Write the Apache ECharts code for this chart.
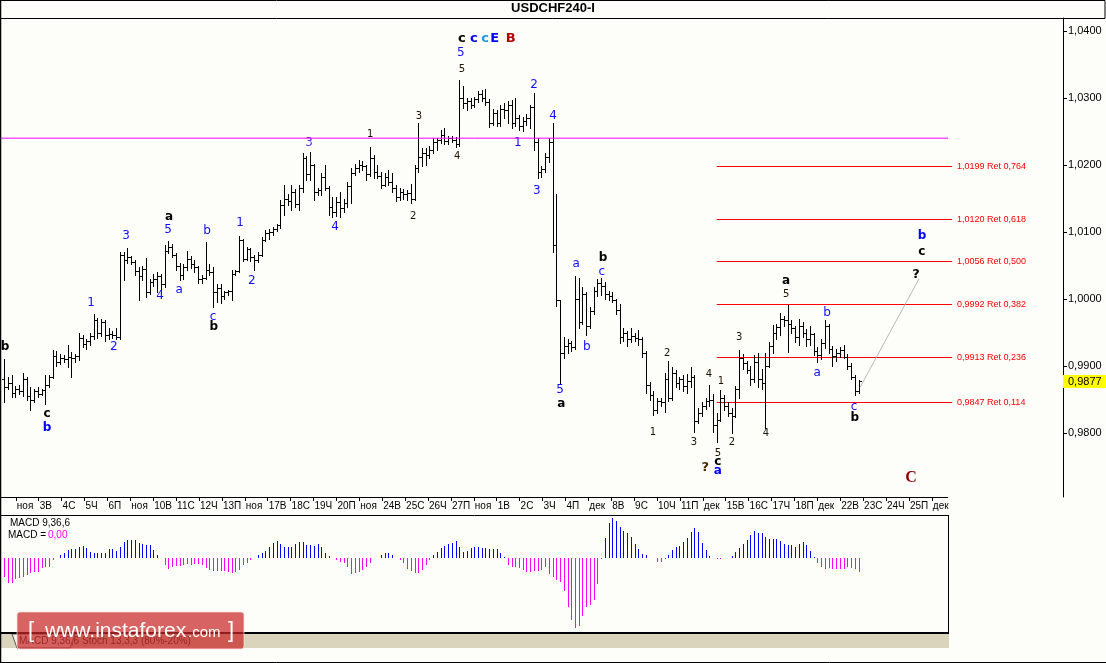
<!DOCTYPE html>
<html><head><meta charset="utf-8">
<script src="https://cdn.jsdelivr.net/npm/echarts@6/dist/echarts.min.js"></script>
<style>html,body{margin:0;padding:0;background:#fdfdf9}#c{width:1106px;height:663px}</style>
</head><body><div id="c"></div>
<script>
// ---------- DATA ----------
const dateLabels = ['ноя','3В','4С','5Ч','6П','ноя','10В','11С','12Ч','13П','ноя','17В','18С','19Ч','20П','ноя','24В','25С','26Ч','27П','ноя','1В','2С','3Ч','4П','дек','8В','9С','10Ч','11П','дек','15В','16С','17Ч','18П','дек','22В','23С','24Ч','25П','дек'];
const priceTicks = [0.98, 0.99, 1.00, 1.01, 1.02, 1.03, 1.04];
// OHLC in pips (price * 10000)
const opens = [
9880,9868,9874,9860,9866,9862,9880,9855,9850,9862,9858,9864,9872,9884,9915,9906,9912,9910,9914,9912,
9915,9942,9933,9937,9945,9968,9950,9966,9946,9948,9946,9944,10066,10058,10062,10055,10042,10034,10045,10010,
10026,10030,10035,10022,10072,10078,10066,10050,10036,10048,10060,10052,10048,10030,10032,10044,10040,10010,10016,10004,
10010,10012,10038,10042,10088,10060,10074,10062,10058,10066,10088,10098,10100,10104,10110,10140,10150,10146,10160,10142,
10165,10210,10186,10200,10160,10162,10182,10166,10138,10130,10145,10136,10144,10168,10188,10196,10200,10198,10186,10210,
10190,10184,10170,10182,10175,10165,10152,10160,10156,10158,10150,10195,10212,10218,10215,10222,10235,10238,10245,10236,
10240,10238,10232,10300,10292,10296,10290,10298,10306,10300,10294,10262,10278,10262,10284,10282,10290,10262,10270,10258,
10265,10270,10286,10235,10190,10194,10212,10235,10080,9998,9920,9930,9934,9928,10000,9966,10008,9960,9982,10012,
10024,10020,10008,10004,9998,9984,9944,9950,9940,9945,9942,9940,9920,9872,9856,9834,9848,9846,9880,9852,
9890,9874,9880,9870,9878,9884,9818,9830,9840,9848,9850,9812,9820,9852,9840,9830,9826,9866,9912,9904,
9894,9880,9906,9880,9874,9900,9930,9950,9958,9970,9968,9962,9956,9944,9960,9950,9940,9948,9922,9916,
9935,9960,9926,9915,9920,9924,9914,9900,9884,9862];
const highs = [
9910,9883,9886,9870,9871,9889,9884,9868,9866,9868,9866,9886,9886,9924,9922,9918,9916,9931,9921,9918,
9949,9946,9940,9950,9977,9972,9970,9969,9956,9952,9956,10070,10070,10076,10064,10058,10048,10050,10061,10030,
10037,10040,10038,10080,10086,10082,10068,10054,10052,10072,10064,10058,10050,10036,10085,10052,10048,10022,10022,10012,
10014,10043,10044,10094,10090,10078,10076,10066,10070,10092,10103,10104,10108,10112,10148,10170,10156,10170,10164,10170,
10218,10214,10220,10202,10166,10188,10200,10168,10152,10152,10160,10150,10175,10196,10202,10207,10206,10200,10227,10215,
10200,10190,10188,10192,10188,10170,10165,10164,10162,10172,10200,10263,10225,10225,10228,10240,10240,10252,10255,10244,
10244,10242,10327,10318,10300,10300,10302,10310,10312,10313,10298,10284,10282,10290,10292,10296,10297,10300,10275,10272,
10276,10290,10307,10240,10198,10218,10240,10262,10156,9999,9943,9940,9938,10034,10031,10018,10010,9988,10018,10030,
10031,10025,10012,10010,10000,9992,9956,9952,9956,9950,9954,9944,9922,9876,9862,9852,9852,9889,9907,9898,
9894,9884,9886,9888,9898,9886,9838,9846,9852,9871,9858,9830,9864,9856,9846,9838,9870,9924,9918,9908,
9900,9916,9919,9896,9919,9936,9961,9962,9979,9975,9991,9968,9960,9970,9966,9955,9960,9950,9928,9940,
9968,9962,9930,9926,9928,9932,9918,9904,9886,9879];
const lows = [
9846,9866,9853,9853,9858,9855,9849,9834,9846,9853,9856,9843,9868,9882,9900,9903,9906,9898,9883,9906,
9909,9928,9926,9931,9940,9942,9945,9938,9941,9942,9940,9940,10028,10054,10052,10036,9998,10028,10003,10008,
10020,10010,10014,10018,10068,10062,10044,10028,10030,10044,10046,10040,10024,10024,10030,10036,9988,9996,9994,10000,
10006,9998,10036,10040,10056,10058,10057,10043,10055,10064,10086,10090,10096,10102,10106,10125,10140,10133,10138,10133,
10160,10178,10178,10148,10155,10155,10162,10125,10122,10124,10122,10130,10137,10143,10185,10190,10192,10178,10184,10180,
10180,10165,10168,10170,10160,10146,10148,10150,10148,10143,10148,10190,10198,10200,10210,10218,10222,10233,10232,10232,
10234,10227,10228,10285,10282,10285,10286,10294,10296,10290,10256,10260,10258,10258,10270,10262,10255,10258,10252,10251,
10260,10255,10222,10181,10182,10190,10205,10070,9990,9874,9912,9920,9922,9926,9956,9962,9947,9956,9978,10004,
10006,10000,9998,9995,9978,9934,9938,9930,9936,9938,9932,9914,9860,9850,9827,9830,9840,9831,9848,9850,
9868,9866,9862,9860,9868,9801,9815,9826,9836,9840,9801,9786,9818,9834,9826,9800,9824,9852,9896,9890,
9872,9876,9868,9866,9808,9898,9920,9940,9946,9960,9921,9950,9936,9932,9944,9930,9932,9916,9906,9910,
9927,9920,9900,9908,9914,9912,9896,9880,9857,9860];
const closes = [
9868,9874,9860,9866,9862,9880,9855,9850,9862,9858,9864,9872,9884,9915,9906,9912,9910,9914,9912,9915,
9942,9933,9937,9945,9968,9950,9966,9946,9948,9946,9944,10066,10058,10062,10055,10042,10034,10045,10010,10026,
10030,10035,10022,10072,10078,10066,10050,10036,10048,10060,10052,10048,10030,10032,10044,10040,10010,10016,10004,10010,
10012,10038,10042,10088,10060,10074,10062,10058,10066,10088,10098,10100,10104,10110,10140,10150,10146,10160,10142,10165,
10210,10186,10200,10160,10162,10182,10166,10138,10130,10145,10136,10144,10168,10188,10196,10200,10198,10186,10210,10190,
10184,10170,10182,10175,10165,10152,10160,10156,10158,10150,10195,10212,10218,10215,10222,10235,10238,10245,10236,10240,
10238,10232,10300,10292,10296,10290,10298,10306,10300,10294,10262,10278,10262,10284,10282,10290,10262,10270,10258,10265,
10270,10286,10235,10190,10194,10212,10235,10080,9998,9920,9930,9934,9928,10000,9966,10008,9960,9982,10012,10024,
10020,10008,10004,9998,9984,9944,9950,9940,9945,9942,9940,9920,9872,9856,9834,9848,9846,9880,9852,9890,
9874,9880,9870,9878,9884,9818,9830,9840,9848,9850,9812,9820,9852,9840,9830,9826,9866,9912,9904,9894,
9880,9906,9880,9874,9900,9930,9950,9958,9970,9968,9962,9956,9944,9960,9950,9940,9948,9922,9916,9935,
9960,9926,9915,9920,9924,9914,9900,9884,9862,9877];
// MACD histogram (one value per bar)
const macdHist = [
-19,-25.7,-25.7,-21.7,-20.7,-19,-17.3,-15.7,-14,-14,-10.7,-9.7,-9,-2.3,0,
2.7,5,7.7,8.3,8.3,10.3,11.7,9.3,6,5,5,5,5,8.3,8.3,6.7,10.3,16,17.7,17.7,17.7,14.3,13.7,12.7,12.7,7.7,2.7,0,
-7.3,-11.3,-9.7,-8.3,-8.3,-7.3,-6.7,-7.3,-6.3,-6.3,-7.3,-10.7,-12.3,-13,-13,-13.3,-13.3,-14,-15,-14.7,-12.3,-7.3,-5,-2.3,-0.7,
2.7,4.3,6.7,11,14.3,17,13.7,11,11,11,13.7,15.3,15.3,12.7,12.7,11.7,13.3,10.3,5,1.7,0,
-2.3,-4,-5.7,-9.7,-16.3,-15.7,-14,-12.3,-9,-5,0,0,
2.7,5,5,2.7,
-0.7,-2.3,-5.7,-11.7,-13.3,-15,-15,-12.3,-7.3,-2.3,
2.7,6,9.3,11.7,13.7,15,17,10.3,6,7,9.3,10.3,10.3,9.3,9.3,8.3,8.3,8.3,5,1,
-7.3,-9,-9.7,-10.7,-12.3,-14,-14,-13,-13,-12.3,-9.7,-16.3,-19.7,-22.3,
-24,-33,-49,-62.3,-70.7,-68.3,-58.3,-49.7,-47.3,-42.3,-26.3,-1.7,
19.3,35,39.3,37,30.3,26.7,25,21,13.7,8.3,3.7,2.3,0,
-0.7,-4,-4,-1.7,
2.7,7.7,11,11.7,16,19.3,25.3,29.3,25.3,15,7.7,1.7,0,
-1,-1.7,0,0,
1.7,5.3,9.3,13.7,17.7,22.7,26.7,25,24.3,21,18.3,18.3,18.3,17,13.7,12.7,12.7,11,13.3,15.3,12.7,7,1,
-5,-9.7,-11.7,-10.7,-11,-11.7,-11.7,-11.7,-9.7,-10.7,-11.7,-14];
const fibLevels = [1.0199, 1.0120, 1.0056, 0.9992, 0.9913, 0.9847];
const fibRatios = ['0,764', '0,618', '0,500', '0,382', '0,236', '0,114'];
const magentaLevel = 1.0240;
const projection = [[229.4, 0.9868], [245.2, 1.0030]];
// wave labels: text, bar position, price (pips), kind
const waveText  = ['b','c','b','1','2','3','4','5','a','a','b','c','b','1','2','3','4','1','2','3','4','5','5','c','c','c','E','B','1','2','3','4','5','a','a','b','c','b','1','2','3','4','1','5','c','a','?','2','3','4','5','a','b','a','c','b','?','c','b','C'];
const waveIdx   = [0.2,11.5,11.5,23.3,29.4,32.7,41.8,43.9,44.2,46.9,54.4,56.0,56.2,63.2,66.4,81.7,88.7,98.1,109.6,111.2,121.4,122.7,122.4,122.7,125.9,128.9,131.5,135.8,137.7,142.0,142.8,147.1,149.0,149.3,153.3,156.2,160.2,160.5,173.9,177.7,184.9,188.9,192.1,191.3,191.3,191.3,187.9,195.1,197.0,204.2,209.6,209.6,220.6,217.9,227.8,228.0,244.4,246.0,246.0,243.1];
const wavePrice = [9928,9828,9807,9994,9928,10094,10004,10103,10122,10013,10101,9974,9958,10113,10027,10233,10107,10245,10124,10273,10213,10342,10367,10388,10388,10389,10388,10388,10233,10319,10162,10274,9865,9844,10052,9928,10040,10062,9801,9919,9786,9888,9877,9770,9757,9743,9748,9786,9942,9800,10007,10027,9980,9889,9839,9822,10037,10071,10094,9733];
const waveKind  = ['blk','blk','bluB','blu','blu','blu','blu','blu','blk','blu','blu','blu','blk','blu','blu','vio','blu','num','num','num','num','num','blu','blkL','bluL','lbl','bluL','red','blu','blu','blu','blu','blu','blk','blu','blu','blu','blk','num','num','num','num','num','num','blk','bluB','qbr','num','num','num','num','blk','blu','blu','blu','blk','q','blk','bluB','bigC'];

// ---------- STYLE / LAYOUT ----------
const FONT = '"Liberation Sans", Arial, sans-serif';
const kinds = {
  blk:  ['bold 12px "DejaVu Sans"', '#000000'],
  blkL: ['bold 13px "DejaVu Sans"', '#000000'],
  bluB: ['bold 12px "DejaVu Sans"', '#0000ff'],
  bluL: ['bold 13px "DejaVu Sans"', '#0000ff'],
  blu:  ['12px "DejaVu Sans"', '#1010ff'],
  vio:  ['12px "DejaVu Sans"', '#4b33ff'],
  num:  ['10px "DejaVu Sans"', '#1e1200'],
  lbl:  ['bold 13px "DejaVu Sans"', '#1c9be0'],
  red:  ['bold 13px "DejaVu Sans"', '#b00000'],
  qbr:  ['bold 13px "DejaVu Sans"', '#4a2800'],
  q:    ['bold 13px "DejaVu Sans"', '#000000'],
  bigC: ['bold 16px "Liberation Serif"', '#8b0000']
};
const PX = 3.7306, X0 = -0.858;     // pixels per bar, first index at left edge
const fibStart = 191, fibEnd = 254.1, fibTextAt = 255.4;
const lineLeft = X0, lineRight = 253.0;
const fmt = v => v.toFixed(4).replace('.', ',');

const ohlc = closes.map((c, i) => [i, opens[i] / 1e4, highs[i] / 1e4, lows[i] / 1e4, c / 1e4]);
const macdData = macdHist.map((v, i) => [i, v]);
const waveData = waveText.map((t, i) => [waveIdx[i], wavePrice[i] / 1e4]);
const fibData = fibLevels.map((v, i) => [fibStart, v]);

const chart = echarts.init(document.getElementById('c'), null, {renderer: 'canvas', width: 1106, height: 663});

const option = {
  backgroundColor: '#fdfdf9',
  animation: false,
  title: {
    text: 'USDCHF240-I', left: 'center', top: 2, padding: 0,
    textStyle: {fontFamily: FONT, fontWeight: 'bold', fontSize: 13, color: '#000'}
  },
  grid: [
    {left: 1, top: 18, width: 1062, height: 479},
    {left: 15.8, top: 496, width: 40.5 * 22.9, height: 1},
    {left: 1, top: 515, width: 947, height: 117}
  ],
  xAxis: [
    {type: 'value', gridIndex: 0, min: X0, max: X0 + 1062 / PX, show: false},
    {type: 'value', gridIndex: 1, min: 0, max: 40.5, interval: 1, position: 'bottom',
      axisLine: {show: false, onZero: false}, splitLine: {show: false},
      axisTick: {show: true, length: 4, lineStyle: {color: '#000'}},
      axisLabel: {formatter: v => dateLabels[v] || '', align: 'left', margin: 4, padding: [0, 0, 0, 1],
        fontFamily: FONT, fontSize: 10, color: '#000', showMaxLabel: false}},
    {type: 'value', gridIndex: 2, min: X0, max: X0 + 947 / PX, show: false}
  ],
  yAxis: [
    {type: 'value', gridIndex: 0, position: 'right', min: 1.04 - 466 / 6700, max: 1.04 + 13 / 6700,
      axisLine: {show: true, onZero: false, lineStyle: {color: '#000', width: 1}},
      axisTick: {show: true, length: 4, lineStyle: {color: '#000'}, customValues: priceTicks},
      axisLabel: {customValues: priceTicks, formatter: fmt, color: '#000', fontFamily: FONT, fontSize: 11, margin: 5},
      splitLine: {show: false}},
    {type: 'value', gridIndex: 1, show: false},
    {type: 'value', gridIndex: 2, min: -74.3, max: 42.7, show: false}
  ],
  series: [
    { // magenta level
      type: 'line', xAxisIndex: 0, yAxisIndex: 0, silent: true, symbol: 'none',
      data: [[lineLeft, magentaLevel], [lineRight, magentaLevel]],
      lineStyle: {color: '#ff00ff', width: 1}
    },
    { // fibonacci levels
      type: 'custom', xAxisIndex: 0, yAxisIndex: 0, silent: true, clip: false,
      data: fibData,
      renderItem(params, api) {
        const lv = api.value(1);
        const a = api.coord([fibStart, lv]), b = api.coord([fibEnd, lv]), t = api.coord([fibTextAt, lv]);
        const y = Math.round(a[1]) + 0.5;
        return {type: 'group', children: [
          {type: 'line', shape: {x1: a[0], y1: y, x2: b[0], y2: y}, style: {stroke: '#ff0000', lineWidth: 1}},
          {type: 'text', x: t[0], y: y, style: {text: fmt(lv) + ' Ret ' + fibRatios[params.dataIndex],
            fill: '#ff0000', font: '9px "Liberation Sans"', align: 'left', verticalAlign: 'middle'}}
        ]};
      }
    },
    { // OHLC bars
      type: 'custom', xAxisIndex: 0, yAxisIndex: 0, silent: true,
      data: ohlc, encode: {x: 0, y: [1, 2, 3, 4]},
      renderItem(params, api) {
        const i = api.value(0);
        const o = api.coord([i, api.value(1)]), h = api.coord([i, api.value(2)]);
        const l = api.coord([i, api.value(3)]), c = api.coord([i, api.value(4)]);
        const X = Math.round(o[0]);
        const st = {stroke: '#000', lineWidth: 1};
        const yo = Math.round(o[1]) + 0.5, yc = Math.round(c[1]) + 0.5;
        return {type: 'group', children: [
          {type: 'line', shape: {x1: X + 0.5, y1: Math.round(h[1]), x2: X + 0.5, y2: Math.round(l[1]) + 1}, style: st},
          {type: 'line', shape: {x1: X - 2, y1: yo, x2: X, y2: yo}, style: st},
          {type: 'line', shape: {x1: X + 1, y1: yc, x2: X + 3, y2: yc}, style: st}
        ]};
      }
    },
    { // projection
      type: 'line', xAxisIndex: 0, yAxisIndex: 0, silent: true, symbol: 'none',
      data: projection, lineStyle: {color: '#b8b8b8', width: 1}
    },
    { // wave labels
      type: 'custom', xAxisIndex: 0, yAxisIndex: 0, silent: true, clip: false,
      data: waveData,
      renderItem(params, api) {
        const p = api.coord([api.value(0), api.value(1)]);
        const k = kinds[waveKind[params.dataIndex]];
        return {type: 'text', x: p[0], y: p[1], style: {text: waveText[params.dataIndex], font: k[0], fill: k[1],
          align: 'center', verticalAlign: 'middle'}};
      }
    },
    { // last price tag
      type: 'custom', xAxisIndex: 0, yAxisIndex: 0, silent: true, clip: false,
      data: [[closes.length - 1, closes[closes.length - 1] / 1e4]],
      renderItem(params, api) {
        const p = api.coord([api.value(0), api.value(1)]);
        const cs = params.coordSys;
        const x = cs.x + cs.width, y = Math.round(p[1]);
        return {type: 'group', children: [
          {type: 'rect', shape: {x: x, y: y - 6, width: 43, height: 13}, style: {fill: '#ffff00'}},
          {type: 'text', x: x + 5, y: y + 0.5, style: {text: fmt(api.value(1)), font: '11px "Liberation Sans"',
            fill: '#000', align: 'left', verticalAlign: 'middle'}}
        ]};
      }
    },
    { // MACD histogram
      type: 'custom', xAxisIndex: 2, yAxisIndex: 2, silent: true,
      data: macdData,
      renderItem(params, api) {
        const v = api.value(1);
        if (!v) return null;
        const z = api.coord([api.value(0), 0]), t = api.coord([api.value(0), v]);
        const X = Math.round(z[0]) + 0.5;
        return {type: 'line', shape: {x1: X, y1: Math.round(z[1]), x2: X, y2: Math.round(t[1])},
          style: {stroke: v > 0 ? '#0000ff' : '#ff00ff', lineWidth: 1}};
      }
    }
  ],
  graphic: [
    {type: 'rect', shape: {x: 0.5, y: 0.5, width: 1104.5, height: 18}, style: {fill: null, stroke: '#000', lineWidth: 1}, z: 50},
    {type: 'line', shape: {x1: 0.5, y1: 0, x2: 0.5, y2: 663}, style: {stroke: '#000', lineWidth: 1.5}, z: 50},
    {type: 'line', shape: {x1: 0, y1: 662.5, x2: 1106, y2: 662.5}, style: {stroke: '#000', lineWidth: 1}, z: 50},
    {type: 'line', shape: {x1: 0, y1: 497.5, x2: 948, y2: 497.5}, style: {stroke: '#000', lineWidth: 1}, z: 50},
    {type: 'line', shape: {x1: 0, y1: 515.5, x2: 949, y2: 515.5}, style: {stroke: '#000', lineWidth: 1}, z: 50},
    {type: 'line', shape: {x1: 948.5, y1: 515, x2: 948.5, y2: 634}, style: {stroke: '#000', lineWidth: 1}, z: 50},
    {type: 'rect', shape: {x: 0, y: 632, width: 949, height: 2}, style: {fill: '#000'}, z: 50},
    {type: 'rect', shape: {x: 1, y: 634, width: 948, height: 14}, style: {fill: '#d9d4bb'}, z: 40},
    {type: 'polygon', shape: {points: [[12, 634], [75, 634], [70, 648], [17, 648]]}, style: {fill: '#f4f2ea', stroke: '#555', lineWidth: 1}, z: 41},
    {type: 'text', x: 19, y: 641, style: {text: 'MACD 9,36,6', font: '10px "Liberation Sans"', fill: '#222', verticalAlign: 'middle'}, z: 42},
    {type: 'text', x: 82, y: 641, style: {text: 'Stoch 13,3,3 (80%-20%)', font: '10px "Liberation Sans"', fill: '#222', verticalAlign: 'middle'}, z: 42},
    {type: 'text', x: 10, y: 523, style: {text: 'MACD 9,36,6', font: '10px "Liberation Sans"', fill: '#000', verticalAlign: 'middle'}, z: 50},
    {type: 'text', x: 8, y: 535, style: {text: 'MACD =', font: '10px "Liberation Sans"', fill: '#000', verticalAlign: 'middle'}, z: 50},
    {type: 'text', x: 48, y: 535, style: {text: '0,00', font: '10px "Liberation Sans"', fill: '#ff00ff', verticalAlign: 'middle'}, z: 50},
    {type: 'group', z: 100, children: [
      {type: 'rect', shape: {x: 17, y: 612, width: 227, height: 37, r: 3}, style: {fill: 'rgba(200,40,40,0.72)', stroke: 'rgba(255,220,220,0.7)', lineWidth: 1}, z: 100},
      {type: 'text', x: 28, y: 631, style: {text: '[', font: '22px "Liberation Sans"', fill: '#fff', verticalAlign: 'middle'}, z: 101},
      {type: 'text', x: 45, y: 631, style: {text: 'www.instaforex', font: '21px "Liberation Sans"', fill: '#fff', verticalAlign: 'middle'}, z: 101},
      {type: 'text', x: 188, y: 633, style: {text: '.com', font: '15px "Liberation Sans"', fill: '#fff', verticalAlign: 'middle'}, z: 101},
      {type: 'text', x: 228, y: 631, style: {text: ']', font: '22px "Liberation Sans"', fill: '#fff', verticalAlign: 'middle'}, z: 101}
    ]}
  ]
};
chart.setOption(option);
</script></body></html>
